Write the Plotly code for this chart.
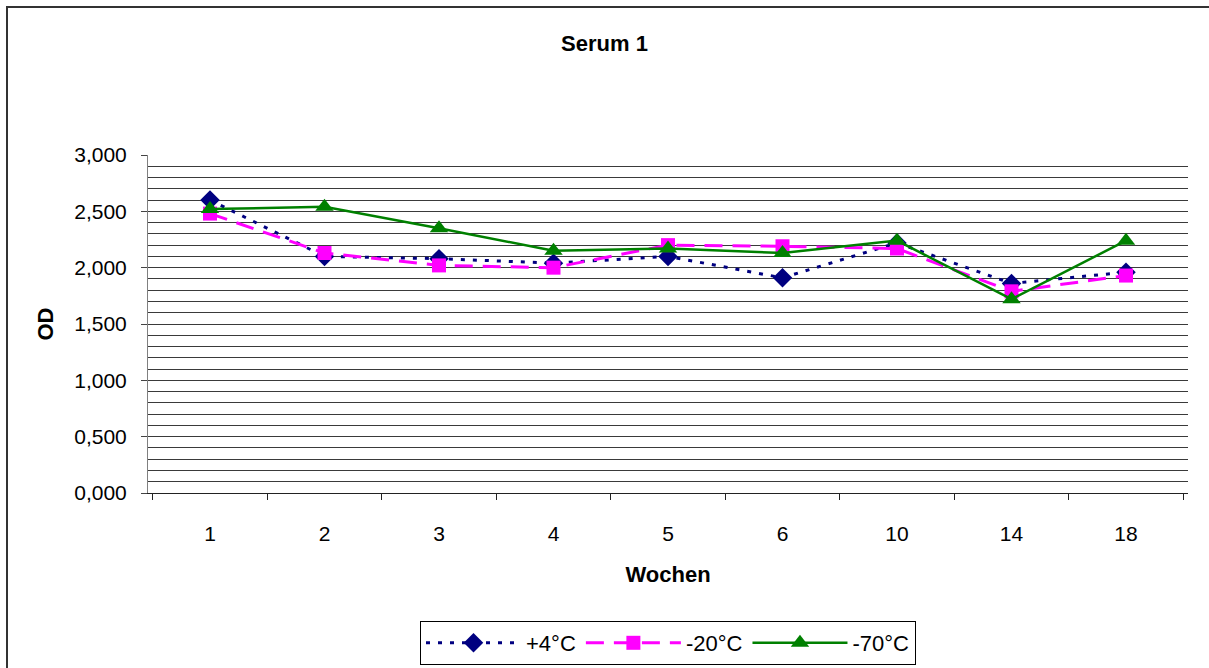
import plotly.graph_objects as go

weeks = ["1", "2", "3", "4", "5", "6", "10", "14", "18"]
plus4 = [2.60, 2.10, 2.08, 2.04, 2.10, 1.91, 2.22, 1.86, 1.96]
minus20 = [2.48, 2.13, 2.02, 2.00, 2.20, 2.19, 2.17, 1.79, 1.93]
minus70 = [2.52, 2.54, 2.35, 2.15, 2.17, 2.13, 2.24, 1.72, 2.24]
series_names = ["+4°C", "-20°C", "-70°C"]
y_ticks = [0, 0.5, 1.0, 1.5, 2.0, 2.5, 3.0]
grid_vals = [round(i * 0.1, 1) for i in range(1, 30) if i % 5 != 0] + [0.5, 1.0, 1.5, 2.0, 2.5]

FONT = "Liberation Sans, Arial, sans-serif"
FS = 22

fig = go.Figure()
fig.add_trace(go.Scatter(
    x=weeks, y=plus4, name=series_names[0], mode="lines+markers",
    line=dict(color="#000080", width=3, dash="4px,8px"),
    marker=dict(symbol="diamond", size=15, color="#000080"),
))
fig.add_trace(go.Scatter(
    x=weeks, y=minus20, name=series_names[1], mode="lines+markers",
    line=dict(color="#FF00FF", width=3, dash="18px,10px"),
    marker=dict(symbol="square", size=14, color="#FF00FF"),
))
fig.add_trace(go.Scatter(
    x=weeks, y=minus70, name=series_names[2], mode="lines+markers",
    line=dict(color="#008000", width=2.5),
    marker=dict(symbol="triangle-up", size=16, color="#008000"),
))

W, H = 1209, 668
L, R, T, B = 148, 21, 155, 175
pw, ph = W - L - R, H - T - B

def px_x(p):
    return (p - L) / pw

def px_y(p):
    return (H - B - p) / ph

fig.add_shape(type="rect", xref="paper", yref="paper",
              x0=px_x(7), x1=px_x(1220), y0=px_y(680), y1=px_y(7),
              line=dict(color="#333333", width=2), fillcolor="rgba(0,0,0,0)", layer="below")

fig.update_layout(
    width=W, height=H,
    margin=dict(l=L, r=R, t=T, b=B, autoexpand=False),
    paper_bgcolor="white", plot_bgcolor="white",
    separators=",.",
    font=dict(family=FONT, size=FS, color="black"),
    title=dict(text="<b>Serum 1</b>", x=0.5, xref="container", xanchor="center",
               y=1 - 43 / H, yref="container", yanchor="middle",
               font=dict(size=FS, family=FONT, color="black")),
    showlegend=True,
    legend=dict(orientation="h", x=0.5, xanchor="center", y=px_y(621), yanchor="top",
                bordercolor="black", borderwidth=1, bgcolor="white",
                font=dict(size=FS, family=FONT, color="black"),
                itemwidth=95, tracegroupgap=0),
    xaxis=dict(
        type="category", categoryorder="array", categoryarray=weeks,
        automargin=False,
        showline=True, linecolor="#222222", linewidth=1,
        ticks="outside", tickson="boundaries", ticklen=6, tickcolor="#222222",
        showgrid=False, zeroline=False,
        ticklabelstandoff=22,
        tickfont=dict(size=FS - 1, family=FONT, color="black"),
        title=dict(text="<b>Wochen</b>", standoff=22, font=dict(size=FS, family=FONT, color="black")),
    ),
    yaxis=dict(
        range=[0, 3.0], automargin=False,
        tickmode="array", tickvals=y_ticks, tickformat=".3f",
        showline=True, linecolor="#808080", linewidth=1,
        ticks="outside", ticklen=6, tickcolor="#444444",
        showgrid=False, zeroline=False,
        ticklabelstandoff=10,
        tickfont=dict(size=FS - 1, family=FONT, color="black"),
        minor=dict(tickmode="array", tickvals=grid_vals, showgrid=True,
                   gridcolor="#3a3a3a", gridwidth=1, ticks=""),
        title=dict(text="<b>OD</b>", standoff=14, font=dict(size=FS, family=FONT, color="black")),
    ),
)

fig.write_html("out.html")
